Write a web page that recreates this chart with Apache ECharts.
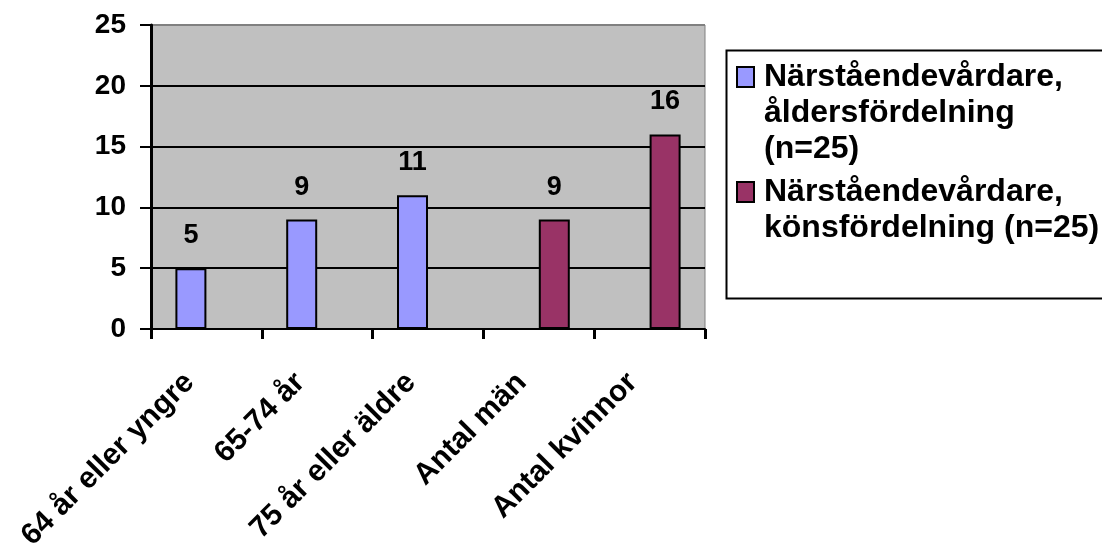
<!DOCTYPE html>
<html>
<head>
<meta charset="utf-8">
<script src="https://cdn.jsdelivr.net/npm/echarts@6/dist/echarts.min.js"></script>
<style>
  html, body { margin: 0; padding: 0; background: #ffffff; }
  #chart { width: 1102px; height: 549px; }
</style>
</head>
<body>
<div id="chart"></div>
<script>
// Kategorier och värden
const categories = ['64 år eller yngre', '65-74 år', '75 år eller äldre', 'Antal män', 'Antal kvinnor'];
const ageValues = [5, 9, 11, null, null];
const genderValues = [null, null, null, 9, 16];
const seriesNames = [
  'Närståendevårdare, åldersfördelning (n=25)',
  'Närståendevårdare, könsfördelning (n=25)'
];
// Teckenförklaringens radbrytningar
const legendLines = [
  ['Närståendevårdare,', 'åldersfördelning', '(n=25)'],
  ['Närståendevårdare,', 'könsfördelning (n=25)']
];
const yMin = 0, yMax = 25, yStep = 5;

const FONT = '"Liberation Sans", Arial, sans-serif';
const LINE_H = 36;
const ICON_W = 17, ICON_H = 20;

// Legend entry whose swatch sits beside the first text line:
// the text block is centred on the swatch, so blank lines are
// put in front to keep the first real line level with it.
function legendFor(i, iconTop) {
  const lines = legendLines[i];
  const n = lines.length;
  const padded = new Array(n - 1).fill('{t| }').concat(lines.map(function (s) { return '{t|' + s + '}'; }));
  const boxTop = ICON_H / 2 - (2 * n - 1) * LINE_H / 2;
  return {
    show: true,
    orient: 'vertical',
    data: [seriesNames[i]],
    left: 736,
    top: iconTop + boxTop,
    padding: 0,
    itemWidth: ICON_W,
    itemHeight: ICON_H,
    icon: 'rect',
    selectedMode: false,
    formatter: function () { return padded.join('\n'); },
    textStyle: {
      fontFamily: FONT,
      fontWeight: 'bold',
      fontSize: 32,
      lineHeight: LINE_H,
      color: '#000000',
      rich: {
        t: {
          fontFamily: FONT,
          fontWeight: 'bold',
          fontSize: 32,
          lineHeight: LINE_H,
          color: '#000000',
          padding: [0, 0, 0, 5]
        }
      }
    }
  };
}

const barLabel = {
  show: true,
  position: 'top',
  distance: 19,
  fontFamily: FONT,
  fontWeight: 'bold',
  fontSize: 27,
  color: '#000000'
};

const chart = echarts.init(document.getElementById('chart'), null, { renderer: 'canvas' });
chart.setOption({
  animation: false,
  backgroundColor: '#ffffff',
  grid: {
    left: 151,
    right: 397,
    top: 25,
    bottom: 220,
    show: true,
    backgroundColor: '#c0c0c0',
    borderColor: '#808080',
    borderWidth: 1,
    containLabel: false,
    outerBoundsMode: 'none'
  },
  legend: [legendFor(0, 67), legendFor(1, 182)],
  graphic: [{
    type: 'rect',
    left: 724,
    top: 48,
    shape: { width: 400, height: 248 },
    style: { fill: 'none', stroke: '#000000', lineWidth: 2 },
    silent: true
  }],
  xAxis: {
    type: 'category',
    data: categories,
    boundaryGap: true,
    axisLine: { show: true, lineStyle: { color: '#000000', width: 2 } },
    axisTick: { show: true, interval: 0, length: 10, lineStyle: { color: '#000000', width: 3 } },
    axisLabel: {
      interval: 0,
      rotate: 45,
      margin: 32,
      padding: [0, 24, 0, 0],
      fontFamily: FONT,
      fontWeight: 'bold',
      fontSize: 30,
      color: '#000000',
      hideOverlap: false
    },
    splitLine: { show: false }
  },
  yAxis: {
    type: 'value',
    min: yMin,
    max: yMax,
    interval: yStep,
    axisLine: { show: true, lineStyle: { color: '#000000', width: 3 } },
    axisTick: { show: true, length: 11, lineStyle: { color: '#000000', width: 2 } },
    axisLabel: {
      margin: 25,
      fontFamily: FONT,
      fontWeight: 'bold',
      fontSize: 28,
      color: '#000000'
    },
    splitLine: {
      show: true,
      lineStyle: { color: ['#000000', '#000000', '#000000', '#000000', '#000000', '#808080'], width: 2 }
    }
  },
  series: [
    {
      name: seriesNames[0],
      type: 'bar',
      data: ageValues,
      barWidth: 31,
      barGap: '0%',
      itemStyle: { color: '#9999ff', borderColor: '#000000', borderWidth: 2 },
      label: barLabel
    },
    {
      name: seriesNames[1],
      type: 'bar',
      data: genderValues,
      barWidth: 31,
      barGap: '0%',
      itemStyle: { color: '#993366', borderColor: '#000000', borderWidth: 2 },
      label: barLabel
    }
  ]
});
</script>
</body>
</html>
